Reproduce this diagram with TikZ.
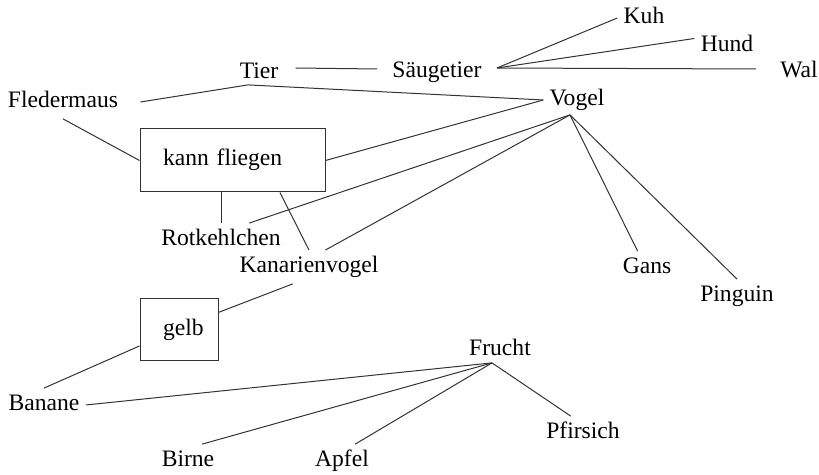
\documentclass[tikz,border=0pt]{standalone}
\usepackage{fontspec}
\setmainfont{Liberation Serif}
\usepackage{tikz}
\usetikzlibrary{positioning}
\tikzstyle{concept} = [inner sep=3pt, text height=8pt, text depth=2.5pt]
\tikzstyle{feature} = [draw=black!80, line width=0.5pt, inner xsep=0pt, align=left, text height=8pt, text depth=2.5pt]
\tikzstyle{link} = [draw=black!80, line width=0.5pt]

\begin{document}
\begin{tikzpicture}[x=0.5pt, y=-0.5pt, font=\fontsize{11.8}{14}\selectfont]
    \useasboundingbox (0,0) rectangle (819,475);

    % Tiere
    \node (tier) [concept] at (259,73) {Tier};
    \node (saeuge) [concept] at (437,72) {Säugetier};
    \node (kuh) [concept] at (644,18) {Kuh};
    \node (hund) [concept] at (727,46) {Hund};
    \node (wal) [concept] at (799,72) {Wal};
    \node (fleder) [concept] at (63,102) {Fledermaus};
    \node (vogel) [concept] at (577,100) {Vogel};

    % Vögel
    \node (rotkehl) [concept] at (221,240) {Rotkehlchen};
    \node (kanarie) [concept] at (309,267) {Kanarienvogel};
    \node (gans) [concept] at (647,268) {Gans};
    \node (pinguin) [concept] at (737,296) {Pinguin};

    % Merkmale
    \node (fliegen) [feature, text width=92.5pt, minimum height=31.5pt] at (232.5,160.5) {\hspace*{11.5pt}kann fliegen};
    \node (gelb) [feature, text width=39pt, minimum height=31pt] at (179,330) {\hspace*{11.5pt}gelb};

    % Früchte
    \node (frucht) [concept] at (500,350) {Frucht};
    \node (banane) [concept] at (44,405) {Banane};
    \node (birne) [concept] at (188,461) {Birne};
    \node (apfel) [concept] at (342,461) {Apfel};
    \node (pfirsich) [concept] at (583,433) {Pfirsich};

    % Knotenpunkte
    \coordinate (saeugehub) at ([shift={(9,-4)}]saeuge.east);
    \coordinate (tierhub) at ([shift={(-11,-5)}]tier.south);
    \coordinate (vogelhub) at ([shift={(-7,-2)}]vogel.south);
    \coordinate (fruchthub) at ([shift={(-8,-4)}]frucht.south);

    % Linien
    \draw [link] ([shift={(11,-5)}]tier.east) -- ([shift={(-9,-3)}]saeuge.west);
    \draw [link] (saeugehub) -- (kuh.west);
    \draw [link] (saeugehub) -- (hund.167);
    \draw [link] (saeugehub) -- ([shift={(-18,-3)}]wal.west);
    \draw [link] (tierhub) -- ([xshift=8pt]fleder.east);
    \draw [link] (tierhub) -- (vogel.west);
    \draw [link] (fleder.south) -- (fliegen.west);
    \draw [link] (fliegen.east) -- (vogel.west);
    \draw [link] (vogelhub) -- (rotkehl.31);
    \draw [link] (vogelhub) -- (kanarie.46);
    \draw [link] (vogelhub) -- (gans.119);
    \draw [link] (vogelhub) -- (pinguin.north);
    \draw [link] (rotkehl.north) -- (rotkehl.north |- fliegen.south);
    \draw [link] (fliegen.-34) -- (kanarie.north);
    \draw [link] (kanarie.-134) -- (gelb.24);
    \draw [link] (gelb.202) -- (banane.north);
    \draw [link] (fruchthub) -- (banane.east);
    \draw [link] (fruchthub) -- (birne.50);
    \draw [link] (fruchthub) -- (apfel.52);
    \draw [link] (fruchthub) -- (pfirsich.126);
\end{tikzpicture}
\end{document}
